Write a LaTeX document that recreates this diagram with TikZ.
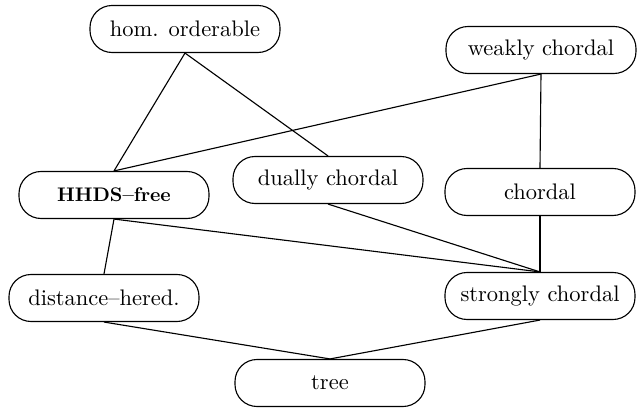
\documentclass[tikz,border=0pt]{standalone}
\usepackage{amsmath,amssymb,graphicx}
\usetikzlibrary{positioning}
\newcommand{\ClassLabel}[1]{\scalebox{1.6}{#1}}

\begin{document}
\begin{tikzpicture}
					\pgfmathsetmacro{\BoxW}{4.75}
					\pgfmathsetmacro{\BoxH}{1.175}
					\tikzset{
						graphclass/.style={draw, line width=0.8pt, rounded corners=0.55cm, minimum width=\BoxW cm, minimum height=\BoxH cm, inner sep=0pt, font=\normalsize},
						inclusion/.style={line width=0.8pt}
					}
					\useasboundingbox (0,0) rectangle (15.925,10.2);
					% TOP ROW
					\node[graphclass] (homord) at (4.625,9.475) {\ClassLabel{hom. orderable}};
					\node[graphclass] (weakchord) at (13.525,8.95) {\ClassLabel{weakly chordal}};
					% MIDDLE ROW
					\node[graphclass] (hhds) at (2.85,5.325) {\scalebox{1.4}{\bfseries HHDS--free}};
					\node[graphclass] (dualchord) at (8.2,5.7) {\ClassLabel{dually chordal}};
					\node[graphclass] (chord) at (13.5,5.4) {\ClassLabel{chordal}};
					% LOWER ROW
					\node[graphclass] (disther) at (2.6,2.75) {\ClassLabel{distance--hered.}};
					\node[graphclass] (strongchord) at (13.5,2.8) {\ClassLabel{strongly chordal}};
					\node[graphclass] (tree) at (8.25,0.625) {\ClassLabel{tree}};
					% EDGES
					\draw[inclusion] (homord.south) -- (hhds.north);
					\draw[inclusion] (homord.south) -- (dualchord.north);
					\draw[inclusion] (weakchord.south) -- (hhds.north);
					\draw[inclusion] (weakchord.south) -- (chord.north);
					\draw[inclusion] (hhds.south) -- (disther.north);
					\draw[inclusion] (hhds.south) -- (strongchord.north);
					\draw[inclusion] (dualchord.south) -- (strongchord.north);
					\draw[inclusion] (chord.south) -- (strongchord.north);
					\draw[inclusion] (disther.south) -- (tree.north);
					\draw[inclusion] (strongchord.south) -- (tree.north);
				\end{tikzpicture}
\end{document}
